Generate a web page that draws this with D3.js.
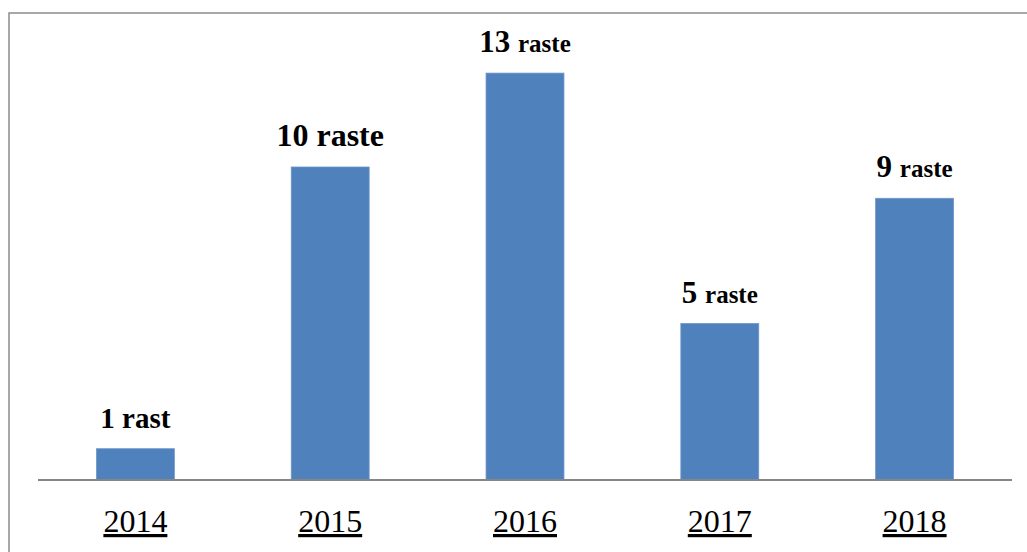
<!DOCTYPE html>
<html>
<head>
<meta charset="utf-8">
<script src="https://cdn.jsdelivr.net/npm/d3@7"></script>
<style>
  html, body { margin: 0; padding: 0; background: #fff; }
  svg { display: block; }
</style>
</head>
<body>
<svg id="chart" width="1027" height="552"></svg>
<script>
// data
const years = ["2014", "2015", "2016", "2017", "2018"];
const counts = [1, 10, 13, 5, 9];
const labelNums = ["1", "10", "13", "5", "9"];
const labelUnits = ["rast", "raste", "raste", "raste", "raste"];

let chart = d3.select("#chart");
let chart_width = 1027;

// outer frame (right and bottom edges run off the page)
chart.append("path")
    .attr("d", "M9,560 L9,13 L1040,13")
    .attr("fill", "none")
    .attr("stroke", "#8c8c8c")
    .attr("stroke-width", 1.5);

let xScale = d3.scaleBand()
    .domain(years)
    .range([38, 1012])
    .paddingInner(0.6)
    .paddingOuter(0.3);

let yScale = d3.scaleLinear()
    .domain([0, 14])
    .range([480, 480 - 14 * 31.3]);

chart.selectAll("rect.bar")
    .data(years).enter()
    .append("rect")
        .attr("class", "bar")
        .attr("x", d => xScale(d))
        .attr("y", (d, i) => yScale(counts[i]))
        .attr("width", xScale.bandwidth())
        .attr("height", (d, i) => yScale(0) - yScale(counts[i]))
        .attr("fill", "#4f81bd")
        .attr("stroke", "#6d97c9")
        .attr("stroke-width", 0.8);

// baseline
let xAxis = chart.append("g")
    .attr("transform", "translate(0," + yScale(0) + ")")
    .call(d3.axisBottom(xScale).tickSize(0).tickPadding(0).tickFormat(""));
xAxis.select(".domain")
    .attr("d", "M38,0H1012")
    .attr("stroke", "#868686")
    .attr("stroke-width", 2);

// year labels, underlined
chart.selectAll("text.year")
    .data(years).enter()
    .append("text")
        .attr("class", "year")
        .attr("x", d => xScale(d) + xScale.bandwidth() / 2)
        .attr("y", 532)
        .attr("text-anchor", "middle")
        .attr("font-family", "'Liberation Serif', 'DejaVu Serif', serif")
        .attr("font-size", "32px")
        .attr("fill", "#000")
        .attr("text-decoration", "underline")
        .text(d => d);

// value labels: number and unit, unit smaller on some
const numSize = { "2014": 29, "2015": 32, "2016": 31, "2017": 31, "2018": 31 };
const unitSize = { "2014": 29, "2015": 32, "2016": 25, "2017": 25, "2018": 25 };

let labels = chart.selectAll("text.val")
    .data(years).enter()
    .append("text")
        .attr("class", "val")
        .attr("x", d => xScale(d) + xScale.bandwidth() / 2)
        .attr("y", (d, i) => yScale(counts[i]) - 21)
        .attr("text-anchor", "middle")
        .attr("font-family", "'Liberation Serif', 'DejaVu Serif', serif")
        .attr("font-weight", "bold")
        .attr("fill", "#000");

labels.append("tspan")
    .attr("font-size", d => numSize[d] + "px")
    .text((d, i) => labelNums[i] + " ");
labels.append("tspan")
    .attr("font-size", d => unitSize[d] + "px")
    .text((d, i) => labelUnits[i]);
</script>
</body>
</html>
